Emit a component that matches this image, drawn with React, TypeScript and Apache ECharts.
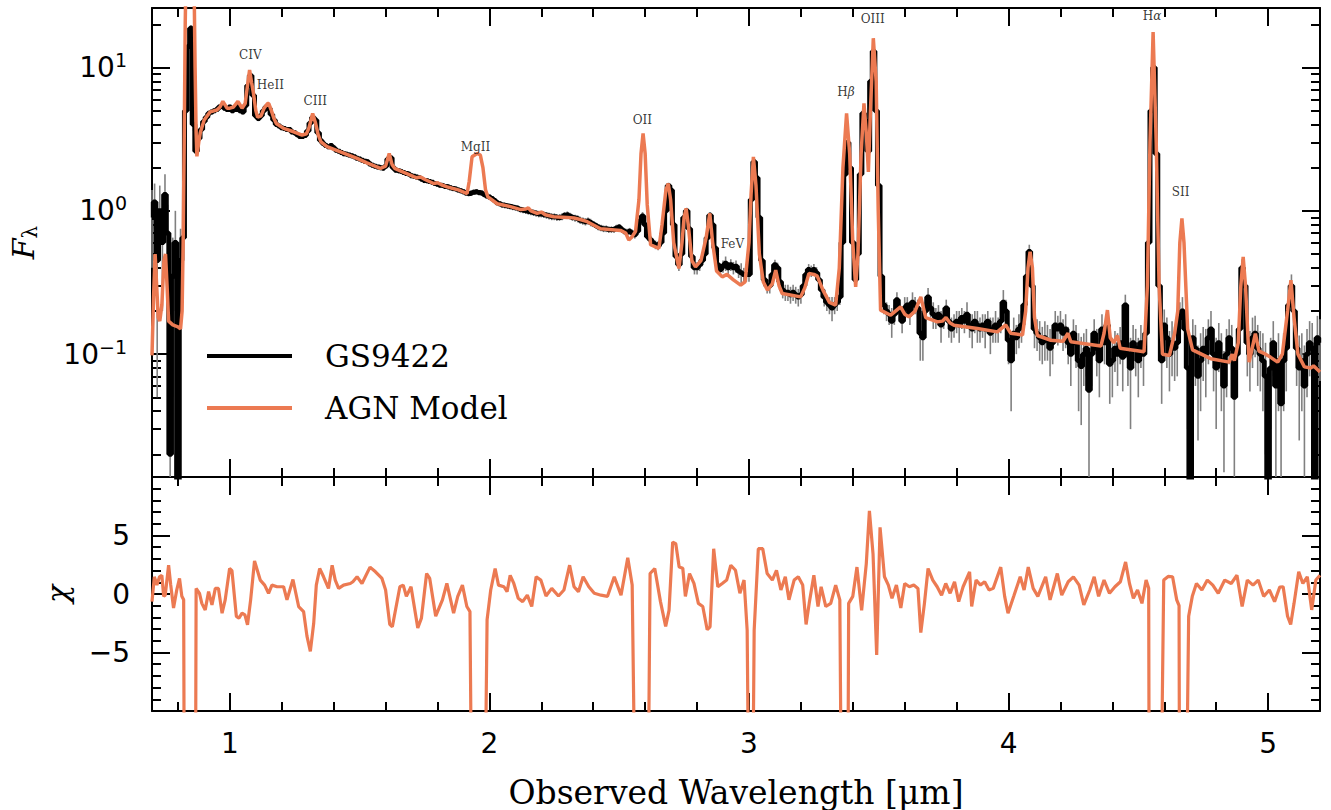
import React, { useEffect, useRef } from "react";
import * as echarts from "echarts";

// ---------------- axis ranges & ticks ----------------
const X_MIN = 0.7;
const X_MAX = 5.2;
const FLUX_MIN = 0.0139;
const FLUX_MAX = 26;
const CHI_MIN = -10;
const CHI_MAX = 10;

const xMajorTicks = [1, 2, 3, 4, 5];
const xMinorTicks = [0.8, 1.2, 1.4, 1.6, 1.8, 2.2, 2.4, 2.6, 2.8, 3.2, 3.4, 3.6, 3.8, 4.2, 4.4, 4.6, 4.8];
const fluxMajorTicks = [0.1, 1, 10];
const fluxMinorTicks = [0.02, 0.03, 0.04, 0.05, 0.06, 0.07, 0.08, 0.09, 0.2, 0.3, 0.4, 0.5, 0.6, 0.7, 0.8, 0.9, 2, 3, 4, 5, 6, 7, 8, 9, 20];
const chiMajorTicks = [-5, 0, 5];
const chiMinorTicks = [-9, -8, -7, -6, -4, -3, -2, -1, 1, 2, 3, 4, 6, 7, 8, 9];

// ---------------- observed spectrum (GS9422), 0.01 um grid from 0.70 um ----------------
const gridStart = 0.7;
const gridStep = 0.01;
const flux = [
  0.9, 1.15, 0.45, 1.0, 0.6, 1.3, 0.7, 0.02, 0.35, 0.6,
  0.012, 0.45, 0.65, 5.0, 14, 18.8, 4.0, 2.6, 3.2, 3.7,
  4.2, 4.5, 4.8, 4.9, 5.0, 5.1, 5.3, 5.4, 5.2, 5.1,
  5.3, 5.0, 5.1, 5.4, 5.0, 4.9, 5.4, 7.5, 8.8, 6.4,
  4.6, 4.4, 4.6, 5.0, 5.3, 5.2, 4.7, 4.3, 4.0, 3.9,
  3.8, 3.75, 3.7, 3.7, 3.55, 3.5, 3.4, 3.3, 3.3, 3.35,
  3.6, 4.1, 4.5, 4.3, 3.5, 3.1, 2.95, 2.85, 2.8, 2.85,
  2.75, 2.65, 2.6, 2.55, 2.5, 2.48, 2.45, 2.42, 2.38, 2.33,
  2.3, 2.25, 2.22, 2.2, 2.12, 2.08, 2.05, 2.02, 2.0, 1.98,
  2.05, 2.3, 2.35, 2.0, 1.92, 1.9, 1.88, 1.85, 1.82, 1.8,
  1.76, 1.74, 1.72, 1.7, 1.66, 1.63, 1.62, 1.6, 1.58, 1.55,
  1.53, 1.51, 1.5, 1.48, 1.47, 1.45, 1.43, 1.42, 1.4, 1.38,
  1.36, 1.33, 1.32, 1.33, 1.35, 1.36, 1.34, 1.33, 1.3, 1.27,
  1.25, 1.22, 1.18, 1.14, 1.12, 1.1, 1.09, 1.08, 1.07, 1.06,
  1.05, 1.04, 1.02, 1.01, 1.0, 0.99, 0.98, 0.97, 0.96, 0.95,
  0.95, 0.94, 0.93, 0.92, 0.91, 0.91, 0.9, 0.9, 0.91, 0.93,
  0.94, 0.92, 0.9, 0.89, 0.88, 0.86, 0.85, 0.84, 0.85, 0.83,
  0.81, 0.79, 0.77, 0.76, 0.75, 0.75, 0.74, 0.74, 0.74, 0.76,
  0.77, 0.74, 0.72, 0.71, 0.72, 0.7, 0.68, 0.72, 0.85, 0.92,
  0.8, 0.66, 0.63, 0.6, 0.58, 0.57, 0.6, 0.7, 1.0, 1.5,
  1.4, 0.8, 0.48, 0.42, 0.5, 0.9, 1.0, 0.75, 0.48, 0.4,
  0.4, 0.42, 0.45, 0.5, 0.65, 0.93, 0.8, 0.55, 0.42, 0.39,
  0.41, 0.43, 0.4, 0.42, 0.4, 0.41, 0.38, 0.37, 0.36, 0.36,
  0.36, 1.2, 2.2, 1.7, 0.9, 0.45, 0.33, 0.3, 0.3, 0.36,
  0.42, 0.4, 0.32, 0.28, 0.27, 0.27, 0.26, 0.27, 0.26, 0.25,
  0.26, 0.3, 0.36, 0.39, 0.38, 0.39, 0.37, 0.33, 0.28, 0.25,
  0.23, 0.22, 0.21, 0.22, 0.23, 0.25, 0.6, 1.8, 3.0, 2.0,
  0.6, 0.33, 0.5, 1.8, 4.8, 4.2, 2.6, 8.0, 13, 5.0,
  1.5, 0.35, 0.22, 0.2, 0.19, 0.17, 0.19, 0.24, 0.2, 0.17,
  0.21, 0.22, 0.19, 0.23, 0.22, 0.21, 0.14, 0.13, 0.2, 0.25,
  0.21, 0.19, 0.18, 0.19, 0.16, 0.18, 0.21, 0.17, 0.15, 0.16,
  0.17, 0.16, 0.18, 0.17, 0.19, 0.16, 0.15, 0.17, 0.16, 0.15,
  0.16, 0.15, 0.17, 0.14, 0.15, 0.16, 0.15, 0.17, 0.23, 0.2,
  0.125, 0.09, 0.14, 0.13, 0.15, 0.16, 0.22, 0.35, 0.52, 0.3,
  0.15, 0.14, 0.13, 0.12, 0.13, 0.125, 0.11, 0.12, 0.16, 0.15,
  0.16, 0.14, 0.15, 0.12, 0.1, 0.14, 0.12, 0.09, 0.082, 0.1,
  0.11, 0.056, 0.1, 0.14, 0.11, 0.09, 0.15, 0.12, 0.16, 0.085,
  0.09, 0.11, 0.1, 0.12, 0.095, 0.22, 0.1, 0.08, 0.12, 0.11,
  0.09, 0.12, 0.1, 0.14, 0.6, 5.0, 10, 2.5, 0.3, 0.09,
  0.16, 0.13, 0.1, 0.12, 0.11, 0.12, 0.18, 0.2, 0.15, 0.08,
  0.012, 0.13, 0.11, 0.07, 0.09, 0.11, 0.1, 0.13, 0.15, 0.1,
  0.08, 0.12, 0.09, 0.06, 0.1, 0.13, 0.11, 0.05, 0.1, 0.15,
  0.4, 0.3, 0.12, 0.1, 0.13, 0.14, 0.11, 0.1, 0.09, 0.07,
  0.01, 0.08, 0.12, 0.06, 0.09, 0.045, 0.09, 0.11, 0.22, 0.3,
  0.2, 0.11, 0.08, 0.09, 0.06, 0.1, 0.12, 0.11, 0.012, 0.13,
  0.12,
];
const fluxErr = [
  0.5, 0.4, 0.4, 0.5, 0.4, 0.5, 0.4, 0.3, 0.3, 0.4,
  0.3, 0.3, 0.3, 0.5, 1.0, 1.0, 0.4, 0.15, 0.15, 0.15,
  0.18, 0.18, 0.2, 0.2, 0.2, 0.2, 0.2, 0.2, 0.2, 0.2,
  0.2, 0.2, 0.2, 0.2, 0.2, 0.2, 0.2, 0.3, 0.3, 0.25,
  0.18, 0.18, 0.18, 0.2, 0.2, 0.2, 0.18, 0.17, 0.16, 0.15,
  0.15, 0.15, 0.15, 0.14, 0.14, 0.14, 0.13, 0.13, 0.13, 0.13,
  0.14, 0.16, 0.17, 0.17, 0.14, 0.12, 0.12, 0.11, 0.11, 0.11,
  0.11, 0.1, 0.1, 0.1, 0.1, 0.1, 0.1, 0.1, 0.09, 0.09,
  0.09, 0.09, 0.09, 0.09, 0.08, 0.08, 0.08, 0.08, 0.08, 0.08,
  0.08, 0.09, 0.09, 0.08, 0.08, 0.08, 0.07, 0.07, 0.07, 0.07,
  0.07, 0.07, 0.07, 0.07, 0.07, 0.07, 0.07, 0.06, 0.06, 0.06,
  0.06, 0.06, 0.06, 0.06, 0.06, 0.06, 0.06, 0.06, 0.06, 0.06,
  0.06, 0.06, 0.06, 0.06, 0.06, 0.06, 0.06, 0.06, 0.06, 0.05,
  0.05, 0.05, 0.05, 0.05, 0.05, 0.05, 0.05, 0.05, 0.05, 0.05,
  0.05, 0.05, 0.05, 0.05, 0.05, 0.05, 0.05, 0.05, 0.05, 0.05,
  0.05, 0.05, 0.05, 0.05, 0.05, 0.05, 0.05, 0.05, 0.05, 0.05,
  0.05, 0.05, 0.05, 0.05, 0.05, 0.05, 0.05, 0.05, 0.05, 0.05,
  0.04, 0.04, 0.04, 0.04, 0.04, 0.04, 0.04, 0.04, 0.04, 0.04,
  0.04, 0.04, 0.04, 0.04, 0.04, 0.04, 0.04, 0.04, 0.05, 0.06,
  0.05, 0.04, 0.04, 0.04, 0.04, 0.04, 0.04, 0.05, 0.06, 0.07,
  0.07, 0.05, 0.04, 0.04, 0.04, 0.05, 0.05, 0.05, 0.04, 0.04,
  0.04, 0.04, 0.04, 0.04, 0.05, 0.05, 0.05, 0.04, 0.04, 0.04,
  0.04, 0.05, 0.04, 0.04, 0.04, 0.04, 0.04, 0.06, 0.04, 0.04,
  0.04, 0.06, 0.08, 0.07, 0.05, 0.04, 0.035, 0.035, 0.035, 0.035,
  0.035, 0.035, 0.035, 0.035, 0.035, 0.035, 0.035, 0.035, 0.035, 0.035,
  0.035, 0.035, 0.035, 0.035, 0.035, 0.035, 0.035, 0.035, 0.035, 0.035,
  0.03, 0.03, 0.04, 0.03, 0.03, 0.03, 0.04, 0.07, 0.1, 0.08,
  0.04, 0.03, 0.04, 0.08, 0.12, 0.12, 0.08, 0.15, 0.25, 0.15,
  0.07, 0.03, 0.03, 0.03, 0.03, 0.04, 0.03, 0.03, 0.03, 0.03,
  0.04, 0.03, 0.03, 0.04, 0.03, 0.03, 0.05, 0.04, 0.03, 0.04,
  0.03, 0.04, 0.03, 0.03, 0.04, 0.03, 0.03, 0.04, 0.03, 0.03,
  0.03, 0.04, 0.03, 0.03, 0.04, 0.03, 0.04, 0.03, 0.04, 0.03,
  0.03, 0.04, 0.03, 0.04, 0.03, 0.04, 0.03, 0.03, 0.05, 0.04,
  0.04, 0.05, 0.04, 0.03, 0.04, 0.04, 0.04, 0.05, 0.06, 0.05,
  0.04, 0.035, 0.04, 0.035, 0.04, 0.035, 0.04, 0.035, 0.04, 0.035,
  0.04, 0.035, 0.04, 0.035, 0.04, 0.035, 0.04, 0.05, 0.05, 0.04,
  0.04, 0.045, 0.04, 0.035, 0.04, 0.04, 0.04, 0.035, 0.04, 0.04,
  0.04, 0.035, 0.04, 0.035, 0.04, 0.04, 0.04, 0.05, 0.04, 0.04,
  0.04, 0.04, 0.04, 0.04, 0.08, 0.2, 0.3, 0.15, 0.07, 0.045,
  0.045, 0.05, 0.045, 0.05, 0.045, 0.05, 0.05, 0.05, 0.045, 0.05,
  0.05, 0.045, 0.05, 0.045, 0.05, 0.045, 0.05, 0.045, 0.05, 0.045,
  0.05, 0.045, 0.05, 0.045, 0.05, 0.045, 0.05, 0.045, 0.05, 0.05,
  0.06, 0.06, 0.05, 0.045, 0.05, 0.045, 0.05, 0.045, 0.05, 0.05,
  0.05, 0.05, 0.05, 0.055, 0.05, 0.05, 0.05, 0.055, 0.06, 0.06,
  0.05, 0.05, 0.055, 0.05, 0.055, 0.05, 0.05, 0.055, 0.055, 0.055,
  0.055,
];

// ---------------- AGN model [wavelength um, F_lambda] ----------------
const modelPoints = [
  [0.7, 0.098], [0.706, 0.25], [0.712, 0.5], [0.718, 0.3], [0.724, 0.18], [0.73, 0.17], [0.738, 0.22],
  [0.746, 0.45], [0.752, 0.5], [0.758, 0.3], [0.764, 0.17], [0.78, 0.16], [0.8, 0.155], [0.81, 0.15],
  [0.816, 0.2], [0.82, 0.6], [0.824, 3], [0.828, 20], [0.832, 60], [0.85, 80], [0.862, 40], [0.866, 10],
  [0.87, 3.5], [0.873, 2.4], [0.88, 3.0], [0.886, 3.5], [0.901, 4.3], [0.924, 4.9], [0.95, 5.05],
  [0.962, 5.3], [0.973, 5.8], [0.989, 5.2], [1.0, 5.2], [1.014, 5.3], [1.031, 5.8], [1.047, 5.2],
  [1.059, 5.6], [1.068, 7.5], [1.076, 9.6], [1.084, 7.8], [1.091, 6.6], [1.1, 5.0], [1.107, 4.5],
  [1.12, 4.6], [1.132, 5.2], [1.145, 5.6], [1.15, 5.6], [1.16, 5.0], [1.17, 4.4], [1.179, 4.07],
  [1.207, 3.76], [1.246, 3.56], [1.278, 3.37], [1.295, 3.45], [1.305, 3.8], [1.319, 4.78], [1.33, 4.1],
  [1.34, 3.4], [1.351, 3.03], [1.374, 2.8], [1.426, 2.58], [1.49, 2.32], [1.528, 2.16], [1.58, 1.98],
  [1.6, 2.05], [1.614, 2.51], [1.625, 2.1], [1.635, 1.98], [1.657, 1.9], [1.708, 1.73], [1.72, 1.7],
  [1.735, 1.72], [1.75, 1.66], [1.785, 1.55], [1.8, 1.57], [1.815, 1.52], [1.837, 1.47], [1.86, 1.43],
  [1.88, 1.4], [1.914, 1.32], [1.922, 1.6], [1.933, 2.38], [1.953, 2.51], [1.965, 2.45], [1.975, 2.0],
  [1.985, 1.4], [1.994, 1.25], [2.03, 1.12], [2.081, 1.07], [2.12, 1.02], [2.14, 1.03], [2.15, 1.05],
  [2.16, 1.0], [2.184, 0.96], [2.2, 0.98], [2.215, 0.94], [2.248, 0.91], [2.3, 0.9], [2.325, 0.89],
  [2.35, 0.87], [2.377, 0.84], [2.428, 0.75], [2.505, 0.73], [2.525, 0.7], [2.537, 0.625], [2.55, 0.66],
  [2.563, 0.72], [2.576, 1.19], [2.584, 2.5], [2.592, 3.47], [2.6, 2.5], [2.608, 1.1], [2.621, 0.58],
  [2.653, 0.547], [2.665, 0.8], [2.68, 1.4], [2.689, 1.55], [2.698, 1.2], [2.71, 0.6], [2.73, 0.396],
  [2.742, 0.6], [2.75, 0.9], [2.758, 1.04], [2.766, 0.8], [2.78, 0.45], [2.794, 0.407], [2.815, 0.45],
  [2.835, 0.65], [2.849, 0.96], [2.86, 0.6], [2.875, 0.38], [2.897, 0.346], [2.915, 0.36], [2.94, 0.33],
  [2.968, 0.303], [2.985, 0.32], [3.0, 0.6], [3.008, 1.3], [3.017, 2.38], [3.027, 1.5], [3.04, 0.5],
  [3.055, 0.32], [3.071, 0.28], [3.09, 0.31], [3.103, 0.385], [3.116, 0.3], [3.128, 0.265], [3.199, 0.251],
  [3.215, 0.29], [3.231, 0.366], [3.25, 0.36], [3.263, 0.35], [3.285, 0.28], [3.31, 0.23], [3.334, 0.22],
  [3.348, 0.4], [3.362, 2.0], [3.376, 4.78], [3.388, 2.5], [3.4, 0.6], [3.411, 0.295], [3.42, 0.5],
  [3.432, 2.5], [3.443, 5.61], [3.452, 3.5], [3.46, 1.87], [3.468, 5], [3.479, 16], [3.49, 8],
  [3.498, 1.0], [3.507, 0.203], [3.546, 0.187], [3.584, 0.214], [3.6, 0.19], [3.616, 0.182], [3.64, 0.2],
  [3.662, 0.251], [3.681, 0.18], [3.726, 0.168], [3.745, 0.17], [3.759, 0.18], [3.775, 0.165], [3.79, 0.159],
  [3.88, 0.151], [3.957, 0.143], [3.989, 0.16], [4.008, 0.14], [4.054, 0.136], [4.066, 0.2], [4.075, 0.4],
  [4.083, 0.518], [4.092, 0.4], [4.1, 0.18], [4.111, 0.135], [4.163, 0.125], [4.21, 0.123], [4.229, 0.14],
  [4.24, 0.122], [4.356, 0.114], [4.368, 0.14], [4.381, 0.203], [4.392, 0.13], [4.405, 0.12], [4.42, 0.135],
  [4.43, 0.11], [4.522, 0.104], [4.535, 0.3], [4.545, 3], [4.557, 17.7], [4.569, 3], [4.58, 0.3],
  [4.593, 0.1], [4.62, 0.098], [4.64, 0.14], [4.652, 0.2], [4.66, 0.6], [4.668, 0.885], [4.676, 0.6],
  [4.69, 0.15], [4.709, 0.107], [4.779, 0.093], [4.85, 0.088], [4.862, 0.1], [4.87, 0.09], [4.885, 0.12],
  [4.895, 0.3], [4.904, 0.477], [4.913, 0.3], [4.927, 0.088], [4.951, 0.139], [4.965, 0.105], [4.99, 0.1],
  [5.01, 0.095], [5.037, 0.088], [5.055, 0.1], [5.075, 0.2], [5.088, 0.328], [5.1, 0.18], [5.115, 0.1],
  [5.14, 0.0815], [5.165, 0.08], [5.175, 0.083], [5.2, 0.075],
];

// ---------------- residuals chi [wavelength um, chi] ----------------
const chiPoints = [
  [0.7, -0.65], [0.709, 1.47], [0.719, 0.76], [0.729, 1.47], [0.738, 1.6], [0.745, -0.2], [0.751, -0.1],
  [0.764, 2.46], [0.772, 0.8], [0.783, -1.2], [0.795, 0.3], [0.806, 1.33], [0.815, -0.2], [0.822, -0.5],
  [0.826, -30], [0.866, -30], [0.87, 0.48], [0.883, 0.06], [0.892, -0.8], [0.905, -1.36], [0.918, 0.2],
  [0.931, -0.93], [0.944, 0.48], [0.956, 0.48], [0.97, -1.64], [0.982, -0.5], [0.999, 2.18], [1.008, 2.0],
  [1.025, -1.92], [1.035, -2.06], [1.047, -1.64], [1.058, -1.78], [1.068, -2.63], [1.08, -0.5], [1.095, 2.82],
  [1.117, 1.19], [1.134, 0.76], [1.149, 0.06], [1.162, 0.76], [1.182, 0.62], [1.207, 0.62], [1.22, -0.5],
  [1.243, 1.24], [1.265, -1.07], [1.284, -1.5], [1.297, -3.6], [1.31, -4.9], [1.323, -2.5], [1.333, 0.76],
  [1.346, 2.18], [1.361, 1.47], [1.38, 0.48], [1.394, 2.46], [1.406, 1.19], [1.419, 0.48], [1.438, 0.76],
  [1.464, 0.9], [1.474, 1.05], [1.49, 1.47], [1.509, 0.9], [1.54, 2.3], [1.561, 1.9], [1.586, 1.33],
  [1.6, 0.34], [1.616, -2.6], [1.626, -2.8], [1.655, 0.62], [1.668, 0.76], [1.68, -0.2], [1.698, 0.62],
  [1.724, -2.9], [1.738, -2.06], [1.758, 1.75], [1.77, 1.33], [1.793, -1.9], [1.819, -0.5], [1.836, 0.9],
  [1.862, -1.64], [1.878, -0.2], [1.896, 0.76], [1.913, -1.07], [1.925, -1.5], [1.936, -30], [1.977, -30],
  [1.991, -2.2], [2.005, 0.34], [2.022, 2.18], [2.035, 0.76], [2.056, 0.62], [2.068, 0.2], [2.08, 1.6],
  [2.094, 0.9], [2.111, -0.37], [2.128, -0.65], [2.146, -0.1], [2.163, -1.07], [2.18, 1.47], [2.198, 1.19],
  [2.218, -0.17], [2.24, 0.48], [2.266, -0.17], [2.287, 0.34], [2.309, 2.46], [2.326, 0.62], [2.343, 0.2],
  [2.361, 1.47], [2.383, 0.62], [2.404, 0.06], [2.43, -0.1], [2.455, -0.2], [2.481, 1.47], [2.507, -0.1],
  [2.533, 3.1], [2.55, 0.76], [2.568, -30], [2.607, -30], [2.619, 1.75], [2.637, 2.18], [2.659, -0.65],
  [2.679, -2.77], [2.692, -1.4], [2.706, 4.43], [2.718, 4.3], [2.731, 2.3], [2.745, 2.2], [2.755, -0.2],
  [2.771, 1.75], [2.788, 0.9], [2.805, -0.8], [2.822, -1.07], [2.839, -3.05], [2.85, -2.8], [2.864, 3.87],
  [2.88, 0.62], [2.897, 0.9], [2.914, 1.19], [2.93, 2.46], [2.948, 2.03], [2.965, 0.06], [2.981, 1.19],
  [2.993, -3.1], [3.004, -30], [3.01, -30], [3.02, -3.1], [3.036, 3.87], [3.053, 3.87], [3.07, 1.75],
  [3.09, 1.19], [3.106, 2.03], [3.123, 0.34], [3.14, 1.47], [3.154, -0.5], [3.174, 1.19], [3.19, 1.47],
  [3.207, 0.76], [3.22, -2.6], [3.232, -0.8], [3.25, 1.6], [3.266, -1.07], [3.278, 0.62], [3.296, -1.07],
  [3.315, -0.8], [3.334, 0.76], [3.35, -0.5], [3.36, -30], [3.379, -30], [3.384, -0.8], [3.4, -0.2],
  [3.416, 2.3], [3.434, -1.4], [3.452, 2.6], [3.464, 7.1], [3.478, 3.4], [3.492, -5.2], [3.505, 5.7],
  [3.522, 1.47], [3.537, 0.76], [3.551, -0.37], [3.568, 0.76], [3.585, -1.2], [3.6, 0.9], [3.618, 0.62],
  [3.635, 0.76], [3.651, 0.48], [3.662, -3.3], [3.676, -0.8], [3.69, 2.18], [3.708, 1.19], [3.725, 0.62],
  [3.742, -0.1], [3.758, 0.9], [3.775, 0.06], [3.792, 1.05], [3.808, -0.65], [3.825, 0.62], [3.85, 1.9],
  [3.858, -1.07], [3.875, 1.19], [3.892, 0.76], [3.908, 1.05], [3.925, 0.34], [3.941, 0.48], [3.97, 2.3],
  [3.985, -0.2], [3.998, -1.64], [4.02, -0.2], [4.045, 1.47], [4.06, 0.34], [4.076, 2.3], [4.095, 0.48],
  [4.113, -0.2], [4.143, 1.47], [4.16, -0.5], [4.188, 1.75], [4.205, -0.1], [4.23, 1.05], [4.25, 1.47],
  [4.272, 0.76], [4.29, -0.93], [4.313, 0.34], [4.33, 1.47], [4.347, -0.2], [4.368, 1.19], [4.389, 0.06],
  [4.41, 0.62], [4.431, 1.05], [4.451, 2.74], [4.466, 0.9], [4.481, -0.37], [4.497, 0.34], [4.514, -0.8],
  [4.53, 1.19], [4.54, 0.5], [4.543, -30], [4.581, -30], [4.598, 1.19], [4.615, 1.5], [4.632, 1.47],
  [4.648, -0.5], [4.657, -1.0], [4.66, -30], [4.679, -30], [4.694, -1.9], [4.708, -0.2], [4.724, 0.9],
  [4.745, 0.34], [4.766, 1.19], [4.787, 0.76], [4.808, 0.06], [4.833, 1.19], [4.858, 0.9], [4.88, 1.6],
  [4.9, -1.07], [4.92, 1.19], [4.942, 0.76], [4.962, 1.19], [4.983, -0.2], [5.005, 0.34], [5.025, -0.65],
  [5.045, 0.6], [5.058, 0.62], [5.075, -1.9], [5.087, -2.6], [5.1, -0.8], [5.118, 1.9], [5.134, 0.9],
  [5.151, 1.47], [5.168, -1.36], [5.184, 1.19], [5.2, 1.6],
];

// ---------------- emission-line annotations [wavelength um, F_lambda] ----------------
const lineNames = ["CIV", "HeII", "CIII", "MgII", "OII", "FeV", "Hβ", "OIII", "Hα", "SII"];
const lineAnchors = [
  [1.079, 12.3], [1.156, 7.5], [1.329, 5.8], [1.946, 2.78], [2.589, 4.29],
  [2.936, 0.586], [3.374, 6.73], [3.477, 21.8], [4.553, 22.9], [4.663, 1.344],
];

// ---------------- styles ----------------
const ORANGE = "#EC7A52";
const FRAME = { color: "#000", width: 2 };
const TICK = { color: "#000", width: 2 };
const MAJOR_LEN = 18;
const MINOR_LEN = 9;
const TEXT_FONT = "DejaVu Serif";

function xAx(gridIndex: number, position: string, ticks: number[], len: number, line: boolean, extra: any = {}) {
  return {
    type: "value", gridIndex, position, min: X_MIN, max: X_MAX,
    axisLine: { show: line, onZero: false, lineStyle: FRAME },
    axisTick: { show: true, inside: true, length: len, customValues: ticks, lineStyle: TICK },
    axisLabel: { show: false },
    splitLine: { show: false },
    ...extra,
  };
}
function yAx(gridIndex: number, type: string, min: number, max: number, position: string, ticks: number[], len: number, line: boolean, extra: any = {}) {
  const base: any = {
    type, gridIndex, position, min, max,
    axisLine: { show: line, onZero: false, lineStyle: FRAME },
    axisTick: { show: true, inside: true, length: len, customValues: ticks, lineStyle: TICK },
    axisLabel: { show: false },
    splitLine: { show: false },
    ...extra,
  };
  if (type === "log") base.logBase = 10;
  return base;
}

function buildOption() {
  const wave = flux.map((_, i) => +(gridStart + i * gridStep).toFixed(2));
  const dataLine = flux.map((f, i) => [wave[i], f]);
  const errBars = flux.map((f, i) => [
    wave[i],
    Math.max(f - fluxErr[i], FLUX_MIN),
    Math.min(f + fluxErr[i], FLUX_MAX),
  ]);

  const tickFont = { fontFamily: "DejaVu Sans", color: "#000" };

  return {
    animation: false,
    backgroundColor: "#fff",
    grid: [
      { left: 152, top: 8, width: 1168, height: 469, outerBoundsMode: "none", containLabel: false },
      { left: 152, top: 477, width: 1168, height: 234, outerBoundsMode: "none", containLabel: false },
    ],
    xAxis: [
      xAx(0, "bottom", xMajorTicks, MAJOR_LEN, true),
      xAx(0, "bottom", xMinorTicks, MINOR_LEN, false),
      xAx(0, "top", xMajorTicks, MAJOR_LEN, true),
      xAx(0, "top", xMinorTicks, MINOR_LEN, false),
      xAx(1, "bottom", xMajorTicks, MAJOR_LEN, true, {
        axisLabel: {
          show: true, customValues: xMajorTicks, ...tickFont, fontSize: 28, lineHeight: 28, margin: 18,
        },
        name: "Observed Wavelength [μm]",
        nameLocation: "middle",
        nameGap: 64,
        nameTextStyle: { fontFamily: TEXT_FONT, fontSize: 33, lineHeight: 34, color: "#000" },
      }),
      xAx(1, "bottom", xMinorTicks, MINOR_LEN, false),
      xAx(1, "top", xMajorTicks, MAJOR_LEN, true),
      xAx(1, "top", xMinorTicks, MINOR_LEN, false),
    ],
    yAxis: [
      yAx(0, "log", FLUX_MIN, FLUX_MAX, "left", fluxMajorTicks, MAJOR_LEN, true, {
        axisLabel: {
          show: true, customValues: fluxMajorTicks, margin: 25,
          formatter: (v: number) => {
            const e = Math.round(Math.log10(v));
            return `{b|10}{s|${e < 0 ? "−" + -e : e}}`;
          },
          rich: {
            b: { ...tickFont, fontSize: 28, lineHeight: 34 },
            s: { ...tickFont, fontSize: 19, lineHeight: 20, verticalAlign: "top" },
          },
        },
        name: "{f|F}{l|λ}",
        nameLocation: "middle",
        nameGap: 111,
        nameRotate: 90,
        nameTextStyle: {
          rich: {
            f: { fontFamily: "DejaVu Serif", fontStyle: "italic", fontSize: 30, lineHeight: 36, color: "#000" },
            l: { fontFamily: "DejaVu Serif", fontSize: 20, lineHeight: 20, padding: [14, 0, 0, 0], color: "#000" },
          },
        },
      }),
      yAx(0, "log", FLUX_MIN, FLUX_MAX, "left", fluxMinorTicks, MINOR_LEN, false),
      yAx(0, "log", FLUX_MIN, FLUX_MAX, "right", fluxMajorTicks, MAJOR_LEN, true),
      yAx(0, "log", FLUX_MIN, FLUX_MAX, "right", fluxMinorTicks, MINOR_LEN, false),
      yAx(1, "value", CHI_MIN, CHI_MAX, "left", chiMajorTicks, MAJOR_LEN, true, {
        axisLabel: {
          show: true, customValues: chiMajorTicks, margin: 22, ...tickFont, fontSize: 28,
          formatter: (v: number) => (v < 0 ? "−" + -v : String(v)),
        },
        name: "χ",
        nameLocation: "middle",
        nameGap: 80,
        nameRotate: 90,
        nameTextStyle: { fontFamily: "DejaVu Serif", fontStyle: "italic", fontSize: 30, lineHeight: 30, color: "#000" },
      }),
      yAx(1, "value", CHI_MIN, CHI_MAX, "left", chiMinorTicks, MINOR_LEN, false),
      yAx(1, "value", CHI_MIN, CHI_MAX, "right", chiMajorTicks, MAJOR_LEN, true),
      yAx(1, "value", CHI_MIN, CHI_MAX, "right", chiMinorTicks, MINOR_LEN, false),
    ],
    legend: {
      data: [
        { name: "GS9422", icon: "rect" },
        { name: "AGN Model", icon: "rect" },
      ],
      orient: "vertical",
      left: 202,
      top: 332,
      itemWidth: 85,
      itemHeight: 4,
      itemGap: 14,
      selectedMode: false,
      textStyle: { fontFamily: TEXT_FONT, fontSize: 31, lineHeight: 34, color: "#000", padding: [4, 0, 0, 28] },
    },
    series: [
      {
        name: "error",
        type: "custom",
        xAxisIndex: 0,
        yAxisIndex: 0,
        silent: true,
        encode: { x: 0, y: [1, 2] },
        data: errBars,
        renderItem: (_p: any, api: any) => {
          const a = api.coord([api.value(0), api.value(1)]);
          const b = api.coord([api.value(0), api.value(2)]);
          return {
            type: "line",
            shape: { x1: a[0], y1: a[1], x2: b[0], y2: b[1] },
            style: { stroke: "#808080", lineWidth: 1.6 },
          };
        },
        z: 1,
      },
      {
        name: "GS9422",
        type: "line",
        xAxisIndex: 0,
        yAxisIndex: 0,
        data: dataLine,
        step: "middle",
        showSymbol: false,
        symbol: "none",
        clip: true,
        itemStyle: { color: "#000" },
        lineStyle: { color: "#000", width: 5 },
        z: 2,
      },
      {
        name: "AGN Model",
        type: "line",
        xAxisIndex: 0,
        yAxisIndex: 0,
        data: modelPoints,
        showSymbol: false,
        symbol: "none",
        clip: true,
        itemStyle: { color: ORANGE },
        lineStyle: { color: ORANGE, width: 3.5 },
        z: 3,
      },
      {
        name: "lines",
        type: "scatter",
        xAxisIndex: 0,
        yAxisIndex: 0,
        silent: true,
        symbolSize: 1,
        itemStyle: { color: "rgba(0,0,0,0)" },
        data: lineNames.map((n, i) => ({ name: n, value: lineAnchors[i] })),
        label: {
          show: true,
          position: "inside",
          formatter: (p: any) => String(p.name).replace(/([αβ])/, "{g|$1}"),
          fontFamily: "DejaVu Serif",
          fontSize: 12,
          color: "#000",
          rich: { g: { fontFamily: "DejaVu Serif", fontStyle: "italic", fontSize: 12, color: "#000" } },
        },
        z: 4,
      },
      {
        name: "chi",
        type: "line",
        xAxisIndex: 4,
        yAxisIndex: 4,
        data: chiPoints,
        showSymbol: false,
        symbol: "none",
        clip: true,
        itemStyle: { color: ORANGE },
        lineStyle: { color: ORANGE, width: 3.2 },
        z: 3,
      },
    ],
  };
}

export default function App() {
  const ref = useRef<HTMLDivElement>(null);
  useEffect(() => {
    if (!ref.current) return;
    const chart = echarts.init(ref.current, null, { renderer: "svg" });
    chart.setOption(buildOption() as any);
    return () => chart.dispose();
  }, []);
  return (
    <div
      ref={ref}
      style={{ position: "fixed", left: 0, top: 0, width: 1331, height: 810, background: "#fff" }}
    />
  );
}
